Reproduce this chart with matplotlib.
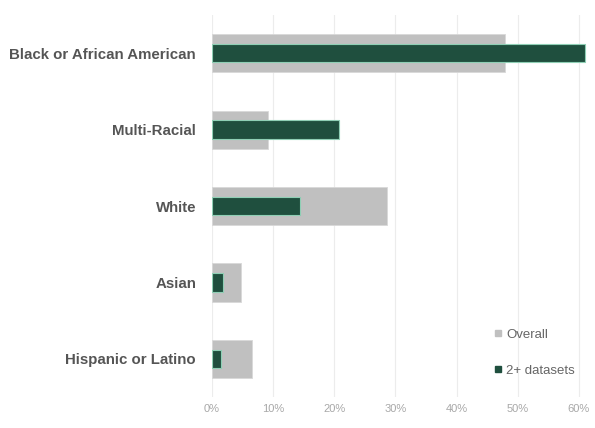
import matplotlib
matplotlib.use("Agg")
import matplotlib.pyplot as plt
from matplotlib.lines import Line2D
from matplotlib.ticker import FuncFormatter

categories = ["Black or African American", "Multi-Racial", "White", "Asian", "Hispanic or Latino"]
overall = [0.48, 0.092, 0.286, 0.047, 0.065]
two_plus = [0.61, 0.208, 0.144, 0.018, 0.015]
xticks = [0.0, 0.1, 0.2, 0.3, 0.4, 0.5, 0.6]

gray = "#c0c0c0"
green = "#1f4f3e"

plt.rcParams["font.family"] = ["Liberation Sans Narrow", "Liberation Sans", "DejaVu Sans"]

fig = plt.figure(figsize=(5.95, 4.28), dpi=100)
ax = fig.add_axes([212 / 595, 1 - 397 / 428, (591 - 212) / 595, (397 - 15) / 428])

ypos = list(range(len(categories)))
ax.barh(ypos, overall, height=0.5, color=gray, edgecolor="#d8d8d8", linewidth=0.6, zorder=2)
ax.barh(ypos, two_plus, height=0.24, color=green, edgecolor="#8fcfb5", linewidth=0.8, zorder=3)

ax.set_ylim(4.5, -0.5)
ax.set_xlim(0, 0.62)
ax.set_xticks(xticks)
ax.xaxis.set_major_formatter(FuncFormatter(lambda v, p: f"{v * 100:.0f}%"))
ax.set_yticks(ypos)
ax.set_yticklabels(categories, fontsize=10.8, color="#555555", fontweight="bold")
ax.tick_params(axis="x", length=0, pad=5, labelsize=8, labelcolor="#a8a8a8")
ax.tick_params(axis="y", length=0, pad=11.5)

ax.grid(axis="x", color="#ececec", linewidth=0.8, zorder=0)
for s in ax.spines.values():
    s.set_visible(False)

handles = [
    Line2D([], [], marker="s", linestyle="none", markersize=5, color=gray, label="Overall"),
    Line2D([], [], marker="s", linestyle="none", markersize=5, color=green, label="2+ datasets"),
]
fig.legend(handles=handles, loc="upper left", bbox_to_anchor=(480 / 595, 1 - 317 / 428),
           frameon=False, fontsize=9.5, labelcolor="#666666", handletextpad=0.1,
           labelspacing=1.8, handlelength=1.0)

fig.savefig("out.png", dpi=100)
